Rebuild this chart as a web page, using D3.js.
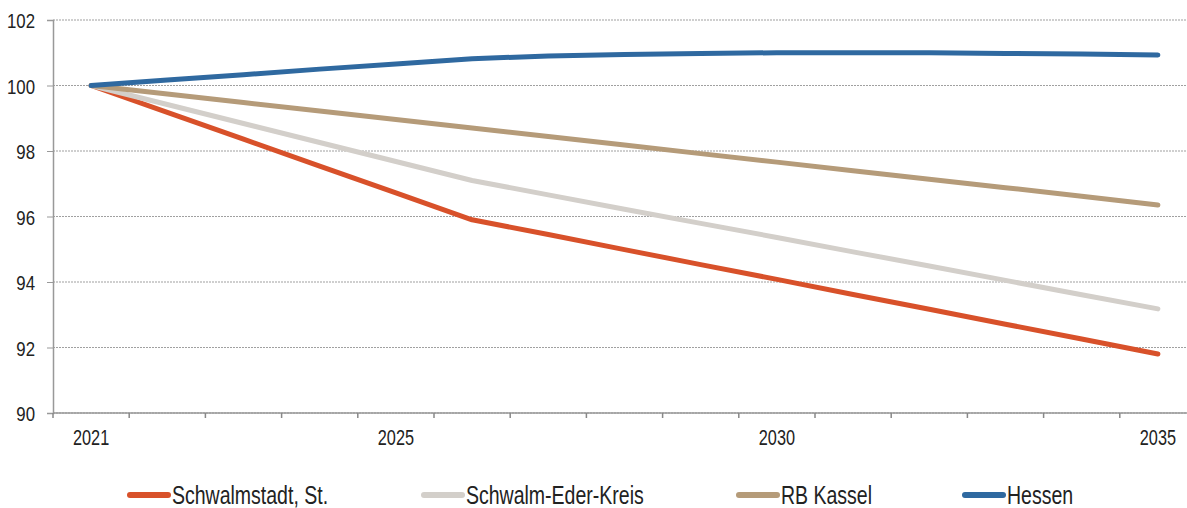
<!DOCTYPE html>
<html lang="de">
<head>
<meta charset="UTF-8">
<title>Bevölkerungsentwicklung</title>
<style>
  body { margin: 0; background: #fff; }
  svg text { font-family: "Liberation Sans", Arial, sans-serif; fill: #222; }
</style>
</head>
<body>
<svg width="1187" height="508" id="svg"></svg>
<script src="https://d3js.org/d3.v7.min.js"></script>
<script>
  // Daten (Index 2021 = 100)
  const years = [2021, 2022, 2023, 2024, 2025, 2026, 2027, 2028, 2029, 2030, 2031, 2032, 2033, 2034, 2035]
  const yearLabels = [2021, 2025, 2030, 2035]
  const yTicks = [90, 92, 94, 96, 98, 100, 102]

  const seriesNames = ["Schwalmstadt, St.", "Schwalm-Eder-Kreis", "RB Kassel", "Hessen"]
  const schwalmstadt = [100, 99.18, 98.36, 97.54, 96.72, 95.9, 95.45, 94.99, 94.53, 94.08, 93.62, 93.17, 92.71, 92.26, 91.8]
  const schwalmEder = [100, 99.42, 98.84, 98.26, 97.68, 97.1, 96.66, 96.22, 95.79, 95.36, 94.92, 94.49, 94.05, 93.61, 93.18]
  const rbKassel = [100, 99.74, 99.48, 99.22, 98.96, 98.7, 98.44, 98.18, 97.92, 97.66, 97.4, 97.14, 96.88, 96.62, 96.35]
  const hessen = [100, 100.17, 100.33, 100.5, 100.66, 100.82, 100.9, 100.95, 100.98, 101.0, 101.0, 101.0, 100.98, 100.96, 100.93]
  const colors = ["#d8512a", "#d3cfca", "#b59b79", "#2f69a0"]

  const allSeries = [schwalmstadt, schwalmEder, rbKassel, hessen]

  const svg = d3.select("svg#svg")
  const width = +svg.attr("width")

  const padding = { left: 53, top: 20 }
  const plotBottom = 413

  const xScale = d3.scaleBand().domain(years).range([padding.left, padding.left + 15 * 76.2])
  const yScale = d3.scaleLinear().domain([90, 102]).range([plotBottom, padding.top])
  const xc = d => xScale(d) + xScale.bandwidth() / 2

  // schmale Schrift nachbilden
  function narrow(sel, f) {
    sel.each(function() {
      const len = this.getComputedTextLength()
      d3.select(this).attr("textLength", len * f).attr("lengthAdjust", "spacingAndGlyphs")
    })
  }

  // Gitterlinien
  svg.append("g").selectAll("line").data(yTicks).join("line")
    .attr("x1", padding.left).attr("x2", width)
    .attr("y1", d => yScale(d)).attr("y2", d => yScale(d))
    .attr("stroke", "#a0a0a0").attr("stroke-width", 1.2)
    .attr("stroke-dasharray", "2,1")

  // y-Achse
  const yAxis = d3.axisLeft(yScale).tickValues(yTicks).tickSize(6).tickPadding(12)
  const gy = svg.append("g").attr("transform", `translate(${padding.left},0)`).call(yAxis)
  gy.select(".domain").attr("stroke", "#999").attr("stroke-width", 1.5)
  gy.selectAll(".tick line").attr("stroke", "#999")
  gy.selectAll(".tick text").style("font-size", "21px").attr("fill", "#222").attr("dy", "0.36em")
  narrow(gy.selectAll(".tick text"), 0.8)

  // x-Achse: Striche an den Kategoriegrenzen
  const gx = svg.append("g").attr("transform", `translate(0,${plotBottom})`)
  gx.append("line").attr("x1", padding.left).attr("x2", width)
    .attr("stroke", "#999").attr("stroke-width", 1.5)
  gx.selectAll("line.tk").data(years).join("line").attr("class", "tk")
    .attr("x1", d => xScale(d)).attr("x2", d => xScale(d))
    .attr("y1", 0).attr("y2", 5)
    .attr("stroke", "#888").attr("stroke-width", 1.5)
  const xl = gx.selectAll("text").data(yearLabels).join("text")
    .attr("x", d => xc(d)).attr("y", 32)
    .attr("text-anchor", "middle")
    .style("font-size", "22px")
    .text(d => d)
  narrow(xl, 0.74)

  // Linien
  const line = d3.line().x((d, i) => xc(years[i])).y(d => yScale(d))
  svg.append("g").selectAll("path").data(allSeries).join("path")
    .attr("d", d => line(d))
    .attr("fill", "none")
    .attr("stroke", (d, i) => colors[i])
    .attr("stroke-width", 5)
    .attr("stroke-linecap", "round")
    .attr("stroke-linejoin", "round")

  // Legende
  const legendX = [128, 422, 737, 963]
  const lg = svg.append("g").attr("transform", "translate(0,495)")
  const items = lg.selectAll("g").data(seriesNames).join("g")
    .attr("transform", (d, i) => `translate(${legendX[i]},0)`)
  items.append("line").attr("x1", 2).attr("x2", 40)
    .attr("stroke", (d, i) => colors[i]).attr("stroke-width", 6)
    .attr("stroke-linecap", "round")
  const lt = items.append("text").attr("x", 44).attr("y", 9)
    .style("font-size", "25px")
    .text(d => d)
  narrow(lt, 0.78)
</script>
</body>
</html>
